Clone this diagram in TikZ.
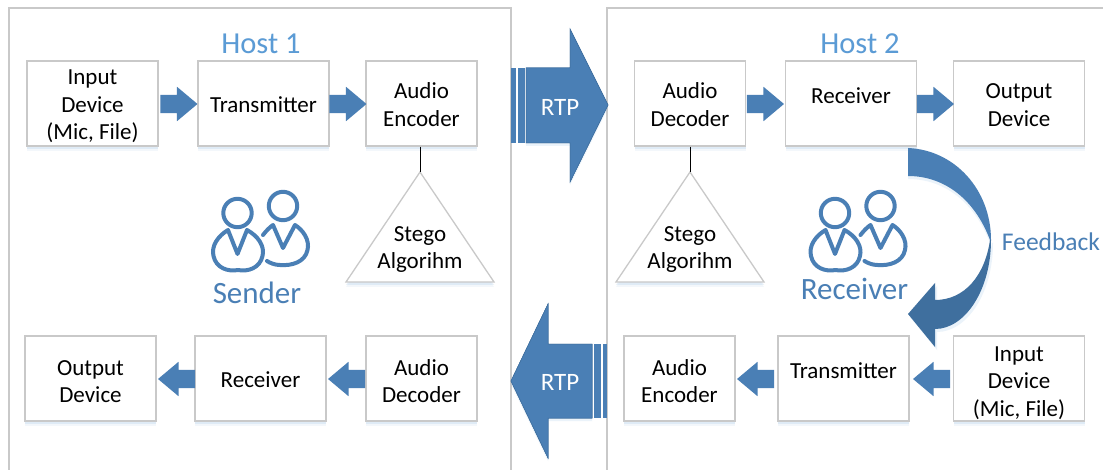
\documentclass[tikz,border=0pt]{standalone}
\usepackage{fontspec}
\setmainfont{Carlito}
\usetikzlibrary{shapes.arrows,shadows}
\definecolor{frameg}{HTML}{C9C9C9}
\definecolor{blockb}{HTML}{4A7FB5}
\definecolor{darkb}{HTML}{3F6F9E}
\definecolor{hostb}{HTML}{5B9BD5}
\definecolor{shadowb}{HTML}{9DC3E6}
\tikzset{
  softshadow/.style={drop shadow={shadow xshift=0pt,shadow yshift=-3pt,fill=shadowb,opacity=.22},drop shadow={shadow xshift=0pt,shadow yshift=-5pt,fill=shadowb,opacity=.12}},
  devbox/.style={draw=frameg,line width=1.4pt,fill=white,align=center,inner sep=0pt,minimum height=85pt,font=\fontsize{23}{27.5}\selectfont,softshadow},
  wide/.style={minimum width=131pt},
  narrow/.style={minimum width=111pt},
  rarrow/.style={single arrow,fill=blockb,inner sep=0pt,minimum width=34pt,minimum height=37pt,single arrow head extend=8pt,single arrow tip angle=80},
  larrow/.style={rarrow,shape border rotate=180},
  frameline/.style={draw=frameg,line width=1.3pt},
  tri/.style={draw=frameg,line width=1.3pt,fill=white,softshadow},
  tritext/.style={align=center,font=\fontsize{23}{27.5}\selectfont},
  hostlabel/.style={text=hostb,font=\fontsize{30.5}{34}\selectfont},
  rolelabel/.style={text=blockb,font=\fontsize{31}{36}\selectfont},
  rtpfill/.style={fill=blockb,draw=darkb,line width=.5pt},
  rtptext/.style={text=white,font=\fontsize{25}{29}\selectfont},
  person/.style={draw=blockb,line width=4pt,line join=round,line cap=round,fill=none},
}
\newcommand{\shaftrule}{\rule{0pt}{18pt}}
\newcommand{\boxlines}[1]{\raisebox{-9.5pt}[0pt][0pt]{\begin{tabular}{@{}c@{}}#1\end{tabular}}}
\newcommand{\boxlinesb}[1]{\raisebox{-11pt}[0pt][0pt]{\begin{tabular}{@{}c@{}}#1\end{tabular}}}
\newcommand{\highline}[1]{\raisebox{0pt}[0pt][0pt]{#1}}
\newcommand{\lowline}[1]{\raisebox{-9pt}[0pt][0pt]{#1}}
\newcommand{\peoplepair}{%
  \draw[person] (237.5,213) circle (14.2);
  \draw[person] (283,206) circle (14.2);
  \draw[person] (228,230) -- (237.5,254) -- (247,230) .. controls (258,236) and (265,246) .. (262.5,256) .. controls (260,268) and (248,272) .. (238,270) .. controls (228,272) and (216,268) .. (213.5,256) .. controls (211,246) and (218,236) .. (228,230) -- cycle;
  \draw[person] (263,235) .. controls (266,231) and (270,227) .. (273,225) -- (283,248) -- (295,225) .. controls (303,230) and (310,240) .. (307.5,250) .. controls (305,262) and (292,266) .. (280,265) .. controls (275,265) and (270,263) .. (267,261);
}
\begin{document}
\begin{tikzpicture}[x=1pt,y=-1pt]
\useasboundingbox (0,0) rectangle (1103,470);
\fill[white] (0,0) rectangle (1103,470);
\draw[frameline] (9,470) -- (9,8) -- (511,8) -- (511,470);
\draw[frameline] (607,470) -- (607,8) -- (1103,8);

% Host 1 top row
\node[devbox,wide] (in1) at (92.5,103.5) {\boxlines{Input\\Device\\(Mic, File)}};
\node[devbox,wide] (tx1) at (263.5,103.5) {\lowline{Transmitter}};
\node[devbox,narrow] (enc1) at (421.5,103.5) {\boxlines{Audio\\Encoder}};
\node[rarrow] (a1) at (173.5,104) {\shaftrule};
\node[rarrow] (a2) at (342.5,104) {\shaftrule};
% Host 2 top row
\node[devbox,narrow] (dec2) at (690,103.5) {\boxlines{Audio\\Decoder}};
\node[devbox,wide] (rx2) at (851,103.5) {\highline{Receiver}};
\node[devbox,wide] (out2) at (1019,103.5) {\boxlines{Output\\Device}};
\node[rarrow] (a3) at (760,104) {\shaftrule};
\node[rarrow] (a4) at (930,104) {\shaftrule};
% Bottom left
\node[devbox,wide] (out1) at (90.5,378.5) {\boxlinesb{Output\\Device}};
\node[devbox,wide] (rx1) at (260.5,378.5) {\lowline{Receiver}};
\node[devbox,narrow] (dec1) at (421.5,378.5) {\boxlinesb{Audio\\Decoder}};
\node[larrow] (a5) at (182,379) {\shaftrule};
\node[larrow] (a6) at (352,379) {\shaftrule};
% Bottom right
\node[devbox,narrow] (enc2) at (679.5,378.5) {\boxlinesb{Audio\\Encoder}};
\node[devbox,wide] (tx2) at (843.5,378.5) {\highline{Transmitter}};
\node[devbox,wide] (in2) at (1019,378.5) {\boxlinesb{Input\\Device\\(Mic, File)}};
\node[larrow] (a7) at (761,379) {\shaftrule};
\node[larrow] (a8) at (937,379) {\shaftrule};

% Stego triangles
\coordinate (apex1) at (420,172);
\coordinate (apex2) at (690,172);
\draw[tri] (apex1) -- (494,282) -- (346,282) -- cycle;
\draw[tri] (apex2) -- (764,282) -- (616,282) -- cycle;
\node[tritext] (st1) at (420,246) {\boxlines{Stego\\Algorihm}};
\node[tritext] (st2) at (690,246) {\boxlines{Stego\\Algorihm}};
\draw[black,line width=1pt] (enc1.south -| apex1) -- (apex1);
\draw[black,line width=1pt] (dec2.south -| apex2) -- (apex2);

% RTP arrows
\fill[rtpfill,drop shadow={shadow xshift=0pt,shadow yshift=-3pt,fill=shadowb,opacity=.2}] (526,68) -- (570,68) -- (570,29) -- (608,105) -- (570,182) -- (570,143) -- (526,143) -- cycle;
\draw[rtpfill] (526,68) -- (570,68) -- (570,29) -- (608,105) -- (570,182) -- (570,143) -- (526,143) -- cycle;
\fill[blockb] (511,68) rectangle (516,143);
\fill[blockb] (517.5,68) rectangle (525,143);
\fill[rtpfill,drop shadow={shadow xshift=0pt,shadow yshift=-3pt,fill=shadowb,opacity=.2}] (592,344) -- (548,344) -- (548,304) -- (511,381) -- (548,458) -- (548,418) -- (592,418) -- cycle;
\draw[rtpfill] (592,344) -- (548,344) -- (548,304) -- (511,381) -- (548,458) -- (548,418) -- (592,418) -- cycle;
\fill[blockb] (594,344) rectangle (601,418);
\fill[blockb] (603,344) rectangle (607,418);
\node[rtptext] (rtp1) at (560,107) {RTP};
\node[rtptext] (rtp2) at (560,382) {RTP};

% Feedback curved arrow
\fill[blockb,drop shadow={shadow xshift=0pt,shadow yshift=-3pt,fill=shadowb,opacity=.2}] (908,148) .. controls (955,150) and (991,190) .. (991,240) -- (990,240) .. controls (975,200) and (945,176) .. (908,176) -- cycle;
\fill[darkb,drop shadow={shadow xshift=2pt,shadow yshift=-3pt,fill=shadowb,opacity=.2}] (991,240) .. controls (991,290) and (965,329) .. (935,329) -- (935,347) -- (908,314) -- (935,283) -- (935,300) .. controls (965,300) and (985,275) .. (990,240) -- cycle;
\node[text=blockb,font=\fontsize{25.5}{29}\selectfont] (fb) at (1051,242) {Feedback};

% Labels
\node[hostlabel] (h1) at (261,44) {Host 1};
\node[hostlabel] (h2) at (860,44) {Host 2};
\peoplepair
\begin{scope}[xshift=597.5pt]
\peoplepair
\end{scope}
\node[rolelabel] (s) at (257,293) {Sender};
\node[rolelabel] (r) at (854.5,289) {Receiver};
\end{tikzpicture}
\end{document}
